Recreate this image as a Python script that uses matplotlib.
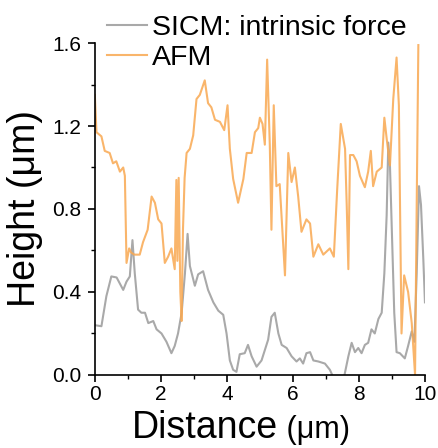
import matplotlib
matplotlib.use("Agg")
import matplotlib.pyplot as plt
from matplotlib.ticker import MultipleLocator

plt.rcParams['font.family'] = ['Liberation Sans', 'DejaVu Sans']

afm_x = [0, 0.05, 0.2, 0.3, 0.45, 0.55, 0.65, 0.76, 0.86, 0.91, 0.96, 1.04, 1.1, 1.2, 1.36,
         1.46, 1.6, 1.72, 1.82, 1.92, 2.02, 2.12, 2.22, 2.32, 2.42, 2.47, 2.50, 2.54, 2.59,
         2.63, 2.67, 2.72, 2.78, 2.88, 2.98, 3.08, 3.18, 3.33, 3.43, 3.53, 3.64, 3.79, 3.92,
         4.02, 4.09, 4.19, 4.34, 4.50, 4.60, 4.75, 4.85, 4.95, 5.0, 5.08, 5.15, 5.22, 5.30,
         5.35, 5.42, 5.50, 5.60, 5.76, 5.86, 5.96, 6.06, 6.16, 6.26, 6.41, 6.52, 6.62, 6.77,
         6.92, 7.12, 7.24, 7.34, 7.45, 7.58, 7.63, 7.68, 7.73, 7.83, 7.93, 8.03, 8.18, 8.28,
         8.36, 8.43, 8.54, 8.69, 8.77, 8.84, 8.94, 9.04, 9.14, 9.21, 9.29, 9.37, 9.49, 9.60,
         9.70, 9.75, 9.80]
afm_y = [1.35, 1.17, 1.15, 1.08, 1.07, 1.02, 1.03, 0.98, 1.00, 0.96, 0.54, 0.61, 0.59, 0.58, 0.58,
         0.64, 0.70, 0.86, 0.83, 0.75, 0.73, 0.54, 0.57, 0.61, 0.51, 0.94, 0.55, 0.95, 0.40,
         0.26, 0.70, 0.95, 1.07, 1.09, 1.155, 1.33, 1.35, 1.42, 1.31, 1.29, 1.23, 1.22, 1.18,
         1.30, 1.09, 0.945, 0.83, 0.945, 1.07, 1.07, 1.17, 1.19, 1.24, 1.21, 1.11, 1.52, 1.11,
         0.70, 1.30, 0.91, 0.92, 0.48, 1.07, 0.93, 1.00, 0.86, 0.69, 0.75, 0.73, 0.57, 0.63,
         0.58, 0.61, 0.57, 0.89, 1.21, 1.09, 0.82, 0.51, 1.06, 1.06, 1.03, 0.96, 0.905, 0.98,
         1.08, 0.91, 0.98, 1.00, 1.24, 1.14, 1.01, 1.33, 1.53, 1.30, 0.20, 0.48, 0.40, 0.25,
         0.0, 0.82, 1.59]

sicm_x = [0, 0.2, 0.35, 0.5, 0.66, 0.76, 0.86, 0.96, 1.06, 1.14, 1.21, 1.31, 1.41, 1.52, 1.62,
          1.77, 1.87, 2.02, 2.17, 2.32, 2.42, 2.52, 2.63, 2.73, 2.81, 2.88, 3.03, 3.13, 3.28,
          3.43, 3.59, 3.74, 3.89, 3.99, 4.09, 4.19, 4.29, 4.39, 4.54, 4.64, 4.75, 4.90, 5.05,
          5.15, 5.25, 5.35, 5.45, 5.56, 5.66, 5.81, 5.96, 6.11, 6.21, 6.31, 6.41, 6.52, 6.62,
          6.77, 6.97, 7.12, 7.22, 7.40, 7.55, 7.68, 7.78, 7.88, 7.98, 8.08, 8.18, 8.28, 8.38,
          8.48, 8.59, 8.69, 8.77, 8.84, 8.89, 8.94, 8.99, 9.07, 9.14, 9.24, 9.39, 9.49, 9.60,
          9.68, 9.75, 9.82, 9.88, 9.95, 10.0]
sicm_y = [0.24, 0.235, 0.38, 0.475, 0.47, 0.44, 0.41, 0.45, 0.475, 0.65, 0.49, 0.315, 0.30, 0.30, 0.25,
          0.26, 0.22, 0.20, 0.16, 0.105, 0.14, 0.20, 0.30, 0.49, 0.68, 0.525, 0.43, 0.485, 0.50,
          0.41, 0.35, 0.31, 0.29, 0.20, 0.07, 0.025, 0.015, 0.10, 0.105, 0.145, 0.09, 0.04, 0.07,
          0.12, 0.17, 0.28, 0.30, 0.20, 0.145, 0.13, 0.09, 0.065, 0.08, 0.055, 0.105, 0.11, 0.07,
          0.065, 0.055, 0.025, -0.01, -0.05, -0.01, 0.09, 0.155, 0.11, 0.13, 0.105, 0.145, 0.155, 0.22,
          0.20, 0.27, 0.30, 0.49, 0.77, 1.12, 1.01, 0.735, 0.30, 0.11, 0.105, 0.08, 0.14, 0.21,
          0.16, 0.49, 0.91, 0.82, 0.56, 0.35]

x_ticks = [0, 2, 4, 6, 8, 10]
y_ticks = [0.0, 0.4, 0.8, 1.2, 1.6]

fig = plt.figure(figsize=(4.39, 4.48), dpi=100)
ax = fig.add_axes([0.216, 0.163, 0.752, 0.741])

ax.plot(sicm_x, sicm_y, color='#9a9a9a', lw=1.5, alpha=0.85, label='SICM: intrinsic force')
ax.plot(afm_x, afm_y, color='#f9a851', lw=1.5, alpha=0.85, label='AFM')

ax.set_xlim(0, 10)
ax.set_ylim(0, 1.6)
ax.set_xticks(x_ticks)
ax.set_xticklabels([str(t) for t in x_ticks])
ax.set_yticks(y_ticks)
ax.set_yticklabels([f"{t:.1f}" for t in y_ticks])
ax.xaxis.set_minor_locator(MultipleLocator(1))
ax.yaxis.set_minor_locator(MultipleLocator(0.2))
for s in ['top', 'right']:
    ax.spines[s].set_visible(False)
for s in ['left', 'bottom']:
    ax.spines[s].set_linewidth(1.2)
ax.tick_params(which='major', direction='out', length=5, width=1.2, labelsize=15)
ax.tick_params(axis='y', which='major', pad=5)
ax.tick_params(axis='x', which='major', pad=2)
ax.tick_params(which='minor', direction='out', length=3, width=1.0)

# x label: "Distance" large, "(μm)" slightly smaller, as in the reference
xl = fig.text(0.30, 0.005, 'Distance', fontsize=27, ha='left', va='bottom')
ax.annotate(' (μm)', xy=(1, 0.02), xycoords=xl, fontsize=22, ha='left', va='bottom',
            annotation_clip=False)
ax.set_ylabel('Height (μm)', fontsize=27, labelpad=6)

fig.legend(loc='upper left', bbox_to_anchor=(0.243, 0.967), frameon=False, fontsize=20.5,
           handlelength=1.4, handletextpad=0.2, labelspacing=0.15, borderpad=0, borderaxespad=0)

fig.savefig('out.png', dpi=100)
